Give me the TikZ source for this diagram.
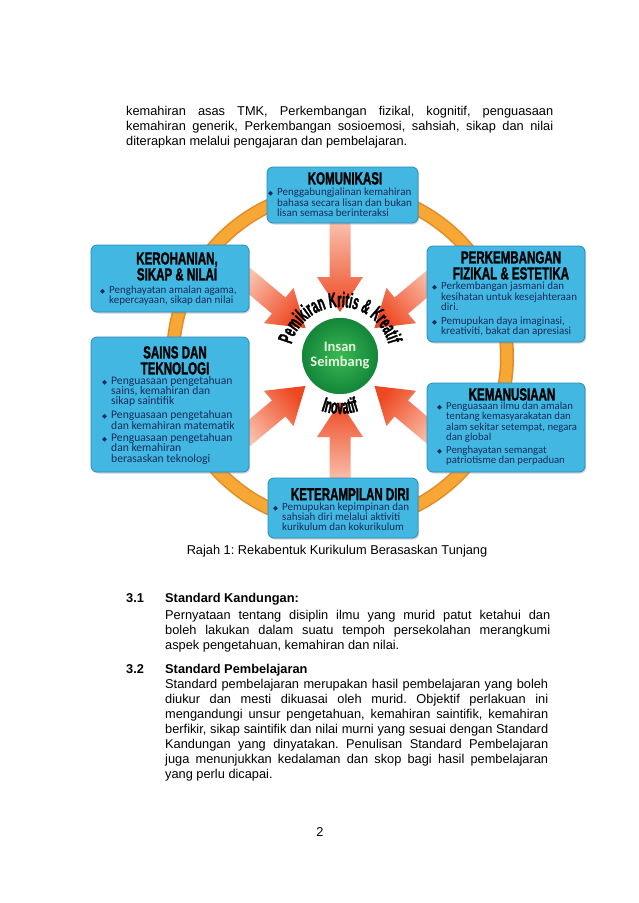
\documentclass[tikz,border=0pt]{standalone}
\usepackage{fontspec}
\setmainfont{Liberation Sans}
\newfontfamily\headfont[FakeStretch=0.66, FakeBold=1.3]{Liberation Sans}
\newfontfamily\arcfont[FakeStretch=0.52, FakeBold=1.3]{Liberation Sans}
\newfontfamily\bodyfont{Carlito}
\newfontfamily\symfont{DejaVu Sans}
\usepackage{tikz}
\usetikzlibrary{positioning, shadows, decorations.text}
\definecolor{boxblue}{RGB}{66,183,226}
\definecolor{boxedge}{RGB}{38,138,188}
\definecolor{navytext}{RGB}{22,44,92}
\definecolor{ringorange}{RGB}{247,167,52}
\definecolor{ringedge}{RGB}{226,138,38}
\definecolor{arrowred}{RGB}{238,72,34}
\definecolor{arrowpale}{RGB}{250,196,176}
\definecolor{insanlight}{RGB}{58,185,84}
\definecolor{insandark}{RGB}{18,132,56}
\definecolor{insantext}{RGB}{228,246,220}

\newcommand{\blt}{\makebox[9pt][l]{\symfont\fontsize{6.5}{6.5}\selectfont ◆}}
\newcommand{\ind}{\hspace*{9pt}}
\newcommand{\jl}[2]{\makebox[#1][s]{#2}}
\newcommand{\arcstyle}{\arcfont\bfseries\fontsize{21}{21}\selectfont}
\frenchspacing

\begin{document}
\begin{tikzpicture}[
    x=1pt, y=-1pt,
    infobox/.style={rectangle, rounded corners=6pt, fill=boxblue, draw=boxedge, line width=0.8pt, drop shadow={opacity=0.35, shadow xshift=1.2pt, shadow yshift=-1.5pt}},
    boxtitle/.style={anchor=north, align=center, inner sep=0pt, font=\headfont\bfseries\fontsize{17.5}{16}\selectfont},
    boxtext/.style={anchor=north west, align=left, inner sep=0pt, text=navytext, font=\bodyfont\fontsize{11}{10.3}\selectfont},
    pagetext/.style={inner sep=0pt, font=\fontsize{12.8}{15}\selectfont},
    sechead/.style={pagetext, anchor=base west, font=\bfseries\fontsize{12.8}{15}\selectfont},
    insan/.style={circle, minimum size=78pt, inner color=insanlight, outer color=insandark, draw=white, line width=1.6pt, text=insantext, align=center, font=\bodyfont\bfseries\fontsize{14.5}{15}\selectfont}
]
\useasboundingbox (0,0) rectangle (638,903);
\fill[white] (0,0) rectangle (638,903);

% Opening paragraph
\node[pagetext, anchor=north west, align=left] (intro) at (126,106.5) {\jl{427pt}{kemahiran asas TMK, Perkembangan fizikal, kognitif, penguasaan}\\
\jl{427pt}{kemahiran generik, Perkembangan sosioemosi, sahsiah, sikap dan nilai}\\
diterapkan melalui pengajaran dan pembelajaran.};

% Centre: ring, arrows, Insan Seimbang
\begin{scope}[shift={(340,357)}, y=1pt]
\draw[ringedge, line width=14pt] (0,0) circle (167pt);
\draw[ringorange, line width=11pt] (0,0) circle (167pt);
\foreach \a/\r in {90/138, 40/126, 140/126, 220/126, 270/126, 320/126} {
  \pgfmathsetmacro{\sa}{\a+90}
  \shade[top color=arrowred, bottom color=arrowpale, shading angle=\sa, rotate=\a]
    (\r,-10.5) -- (80,-10.5) -- (80,-23) -- (45,0) -- (80,23) -- (80,10.5) -- (\r,10.5) -- cycle;
}
\node[insan] (insan) at (0,1) {Insan\\Seimbang};
\path[decorate, decoration={text along path, text align=center, text={|\arcstyle|Pemikiran Kritis {\&} Kreatif}}]
  (174:50) arc[start angle=174, end angle=6, radius=50];
\path[decorate, decoration={text along path, text align=center, text={|\arcstyle|Inovatif}}]
  (235:57) arc[start angle=235, end angle=305, radius=57];
\end{scope}

% Boxes
\node[infobox, minimum width=151pt, minimum height=56pt] (komunikasi) at (342.5,195) {};
\node[infobox, minimum width=158pt, minimum height=67pt] (kerohanian) at (170,278.5) {};
\node[infobox, minimum width=158pt, minimum height=96pt] (fizikal) at (506,294) {};
\node[infobox, minimum width=158pt, minimum height=135pt] (sains) at (170,404.5) {};
\node[infobox, minimum width=158pt, minimum height=89pt] (kemanusiaan) at (506,427.5) {};
\node[infobox, minimum width=150pt, minimum height=60pt] (keterampilan) at (343,508) {};

% Box titles
\node[boxtitle] (komunikasiT) at (345,172) {KOMUNIKASI};
\node[boxtitle] (kerohanianT) at (177,252) {KEROHANIAN,\\SIKAP \& NILAI};
\node[boxtitle] (fizikalT) at (511,251) {PERKEMBANGAN\\FIZIKAL \& ESTETIKA};
\node[boxtitle] (sainsT) at (175,346) {SAINS DAN\\TEKNOLOGI};
\node[boxtitle] (kemanusiaanT) at (512,388) {KEMANUSIAAN};
\node[boxtitle] (keterampilanT) at (350,488) {KETERAMPILAN DIRI};

% Box points
\node[boxtext] (komunikasiX) at (268,188) {\blt Penggabungjalinan kemahiran\\ \ind bahasa secara lisan dan bukan\\ \ind lisan semasa berinteraksi};
\node[boxtext] (kerohanianX) at (100,285.5) {\blt Penghayatan amalan agama,\\ \ind kepercayaan, sikap dan nilai};
\node[boxtext] (fizikalX) at (432,282) {\blt Perkembangan jasmani dan\\ \ind kesihatan untuk kesejahteraan\\ \ind diri.\\[3.3pt]
  \blt Pemupukan daya imaginasi,\\ \ind kreativiti, bakat dan apresiasi};
\node[boxtext, font=\bodyfont\fontsize{11.6}{10.3}\selectfont] (sainsX) at (102,376) {\blt Penguasaan pengetahuan\\ \ind sains, kemahiran dan\\ \ind sikap saintifik\\[3.8pt]
  \blt Penguasaan pengetahuan\\ \ind dan kemahiran matematik\\[2pt]
  \blt Penguasaan pengetahuan\\ \ind dan kemahiran\\ \ind berasaskan teknologi};
\node[boxtext, font=\bodyfont\fontsize{10.7}{10.2}\selectfont] (kemanusiaanX) at (437,402) {\blt Penguasaan ilmu dan amalan\\ \ind tentang kemasyarakatan dan\\ \ind alam sekitar setempat, negara\\ \ind dan global\\[3.3pt]
  \blt Penghayatan semangat\\ \ind patriotisme dan perpaduan};
\node[boxtext] (keterampilanX) at (273,502.5) {\blt Pemupukan kepimpinan dan\\ \ind sahsiah diri melalui aktiviti\\ \ind kurikulum dan kokurikulum};

% Caption
\node[pagetext] (caption) at (337,551) {Rajah 1: Rekabentuk Kurikulum Berasaskan Tunjang};

% 3.1
\node[sechead] (num31) at (126,602) {3.1};
\node[sechead] (head31) at (165,602) {Standard Kandungan:};
\node[pagetext, anchor=north west, align=left] (body31) at (165,609.7) {\jl{385pt}{Pernyataan tentang disiplin ilmu yang murid patut ketahui dan}\\
\jl{385pt}{boleh lakukan dalam suatu tempoh persekolahan merangkumi}\\
aspek pengetahuan, kemahiran dan nilai.};

% 3.2
\node[sechead] (num32) at (126,673.5) {3.2};
\node[sechead] (head32) at (165,673.5) {Standard Pembelajaran};
\node[pagetext, anchor=north west, align=left] (body32) at (165,678.7) {\jl{383pt}{Standard pembelajaran merupakan hasil pembelajaran yang boleh}\\
\jl{383pt}{diukur dan mesti dikuasai oleh murid. Objektif perlakuan ini}\\
\jl{383pt}{mengandungi unsur pengetahuan, kemahiran saintifik, kemahiran}\\
\jl{383pt}{berfikir, sikap saintifik dan nilai murni yang sesuai dengan Standard}\\
\jl{383pt}{Kandungan yang dinyatakan. Penulisan Standard Pembelajaran}\\
\jl{383pt}{juga menunjukkan kedalaman dan skop bagi hasil pembelajaran}\\
yang perlu dicapai.};

% Page number
\node[pagetext] (pagenum) at (320,832) {2};
\end{tikzpicture}
\end{document}
